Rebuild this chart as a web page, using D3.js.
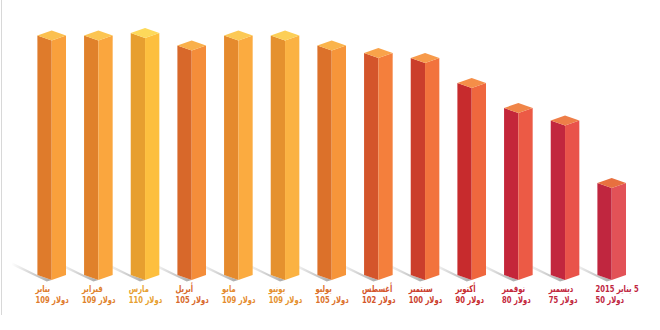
<!DOCTYPE html>
<html>
<head>
<meta charset="utf-8">
<script src="https://cdn.jsdelivr.net/npm/d3@7"></script>
<style>
  body { margin: 0; background: #fff; }
  svg { display: block; }
</style>
</head>
<body>
<svg id="oilPrice"></svg>
<script>
var width = 660;
var height = 330;

// data
var months = ["يناير", "فبراير", "مارس", "أبريل", "مايو", "يونيو", "يوليو", "أغسطس", "سبتمبر", "أكتوبر", "نوفمبر", "ديسمبر", "5 يناير 2015"];
var prices = [109, 109, 110, 105, 109, 109, 105, 102, 100, 90, 80, 75, 50];
var unit = "دولار";

// face colours per bar: left, right, top
var leftFace  = ["#df7b2b", "#e0812b", "#e79f2f", "#d8682a", "#e58a2d", "#e5912e", "#dc712a", "#d4552b", "#cb3e2c", "#c72b2d", "#c4263a", "#c2273e", "#c0263f"];
var rightFace = ["#f9a03c", "#faa63e", "#fdbf3e", "#f48d3a", "#fbab40", "#fbb242", "#f6953a", "#f47f3c", "#f2733d", "#ef673e", "#ec5a45", "#e9534a", "#e25257"];
var topFace   = ["#fbc04f", "#fcc552", "#fdd95a", "#f9b04b", "#fcc955", "#fccf57", "#fab44c", "#f9a34a", "#f79a4a", "#f58e48", "#f08548", "#ee7e48", "#e8703f"];

var svg = d3.select('#oilPrice')
  .attr('width', width)
  .attr('height', height)
  .attr('viewBox', [0, 0, width, height]);

var data = months.map((m, i) => ({ month: m, price: prices[i], i: i }));

///////////////////////////////////////////////////////////////////////////
// scales
var x = d3.scalePoint()
  .domain(months)
  .range([51.7, 611.7]);

var y = d3.scaleLinear()
  .domain([50, 110])
  .range([188, 38]);

var base = 280;   // front bottom corner
var hw = 14.3;    // half width of a bar
var dy = 5;       // iso slant

// faint frame at the left
svg.append("line")
  .attr("x1", 1.5).attr("x2", 1.5)
  .attr("y1", 0).attr("y2", 315)
  .attr("stroke", "#d8d8d8")
  .attr("stroke-width", 1);

///////////////////////////////////////////////////////////////////////////
// shadows
var defs = svg.append("defs");
var grad = defs.append("linearGradient")
  .attr("id", "shadow")
  .attr("x1", "0").attr("x2", "1").attr("y1", "0").attr("y2", "0");
grad.append("stop").attr("offset", "0").attr("stop-color", "#777").attr("stop-opacity", 0);
grad.append("stop").attr("offset", "1").attr("stop-color", "#777").attr("stop-opacity", 0.65);

svg.selectAll("path.shadow")
  .data(data)
  .join("path")
    .attr("class", "shadow")
    .attr("fill", "url(#shadow)")
    .attr("d", d => {
      var cx = x(d.month);
      return "M" + (cx - hw - 26) + "," + (base - dy - 13)
        + "L" + (cx - hw) + "," + (base - dy)
        + "L" + cx + "," + base
        + "L" + (cx - 5) + "," + (base + 1.5)
        + "L" + (cx - hw - 26) + "," + (base - dy - 10) + "Z";
    });

///////////////////////////////////////////////////////////////////////////
// bars (three faces each)
var bars = svg.selectAll("g.bar")
  .data(data)
  .join("g")
    .attr("class", "bar");

bars.append("path")
  .attr("fill", d => leftFace[d.i])
  .attr("d", d => {
    var cx = x(d.month), t = y(d.price);
    return "M" + (cx - hw) + "," + (t - dy) + "L" + cx + "," + t
      + "L" + cx + "," + base + "L" + (cx - hw) + "," + (base - dy) + "Z";
  });

bars.append("path")
  .attr("fill", d => rightFace[d.i])
  .attr("d", d => {
    var cx = x(d.month), t = y(d.price);
    return "M" + cx + "," + t + "L" + (cx + hw) + "," + (t - dy)
      + "L" + (cx + hw) + "," + (base - dy) + "L" + cx + "," + base + "Z";
  });

bars.append("path")
  .attr("fill", d => topFace[d.i])
  .attr("d", d => {
    var cx = x(d.month), t = y(d.price);
    return "M" + (cx - hw) + "," + (t - dy) + "L" + cx + "," + (t - 2 * dy)
      + "L" + (cx + hw) + "," + (t - dy) + "L" + cx + "," + t + "Z";
  });

///////////////////////////////////////////////////////////////////////////
// labels under the bars (squeezed horizontally, the original face is condensed)
svg.selectAll("text.month")
  .data(data)
  .join("text")
    .attr("class", "month")
    .attr("transform", d => "translate(" + (x(d.month) - hw - 2) + ",292) scale(0.72,1)")
    .attr("direction", "rtl")
    .attr("text-anchor", "end")
    .style("font-family", "'DejaVu Sans', sans-serif")
    .style("font-size", "9.5px")
    .style("font-weight", "bold")
    .attr("fill", d => leftFace[d.i])
    .text(d => d.month);

svg.selectAll("text.price")
  .data(data)
  .join("text")
    .attr("class", "price")
    .attr("transform", d => "translate(" + (x(d.month) - hw - 2) + ",303) scale(0.72,1)")
    .attr("direction", "ltr")
    .style("unicode-bidi", "embed")
    .attr("text-anchor", "start")
    .style("font-family", "'DejaVu Sans', sans-serif")
    .style("font-size", "9.5px")
    .style("font-weight", "bold")
    .attr("fill", d => leftFace[d.i])
    .text(d => d.price + " " + unit);
</script>
</body>
</html>
